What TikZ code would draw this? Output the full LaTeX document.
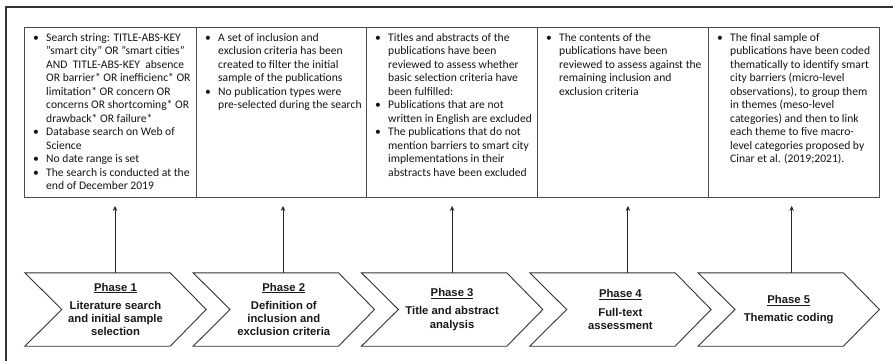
\documentclass[tikz,border=0pt]{standalone}
\usepackage{fontspec}
\setmainfont{Carlito}
\newfontfamily\phasefont{Liberation Sans}
\usetikzlibrary{arrows.meta}
\newcommand{\bi}{\textbullet &}
\begin{document}
\begin{tikzpicture}[x=1pt,y=-1pt,
  frame/.style={line width=1.3pt, draw=black!80},
  colbox/.style={draw=black!70, line width=0.9pt, minimum height=170pt, inner sep=0pt, anchor=north west},
  coltext/.style={inner sep=0pt, anchor=north west, font=\fontsize{11.6}{13.5}\selectfont, text=black!92},
  phase/.style={minimum width=181pt, minimum height=73pt, inner sep=0pt, align=center, font=\phasefont\bfseries\fontsize{11.3}{13.3}\selectfont, text=black!90},
  chev/.style={draw=black!80, line width=0.9pt},
  arr/.style={draw=black!85, line width=1pt, -{Stealth[length=5pt,width=4.5pt]}, shorten >=8pt}]
\useasboundingbox (0,0) rectangle (893,360);
\draw[frame] (6,372) -- (6,7) -- (905,7);

% table columns
\node[colbox, minimum width=172pt] (c1) at (24,27) {};
\node[colbox, minimum width=170pt] (c2) at (196,27) {};
\node[colbox, minimum width=171pt] (c3) at (366,27) {};
\node[colbox, minimum width=171pt] (c4) at (537,27) {};
\node[colbox, minimum width=171pt] (c5) at (708,27) {};

\node[coltext] (t1) at ([xshift=9pt,yshift=-4.5pt]c1.north west) {\begin{tabular}{@{}p{13pt}@{}l@{}}
\bi Search string: TITLE-ABS-KEY\\
& "smart city" OR "smart cities"\\
& AND\ \ TITLE-ABS-KEY\ \ absence\\
& OR barrier* OR inefficienc* OR\\
& limitation* OR concern OR\\
& concerns OR shortcoming* OR\\
& drawback* OR failure*\\
\bi Database search on Web of\\
& Science\\
\bi No date range is set\\
\bi The search is conducted at the\\
& end of December 2019
\end{tabular}};

\node[coltext] (t2) at ([xshift=9pt,yshift=-4.5pt]c2.north west) {\begin{tabular}{@{}p{13pt}@{}l@{}}
\bi A set of inclusion and\\
& exclusion criteria has been\\
& created to filter the initial\\
& sample of the publications\\
\bi No publication types were\\
& pre-selected during the search
\end{tabular}};

\node[coltext] (t3) at ([xshift=9pt,yshift=-4.5pt]c3.north west) {\begin{tabular}{@{}p{13pt}@{}l@{}}
\bi Titles and abstracts of the\\
& publications have been\\
& reviewed to assess whether\\
& basic selection criteria have\\
& been fulfilled:\\
\bi Publications that are not\\
& written in English are excluded\\
\bi The publications that do not\\
& mention barriers to smart city\\
& implementations in their\\
& abstracts have been excluded
\end{tabular}};

\node[coltext] (t4) at ([xshift=9pt,yshift=-4.5pt]c4.north west) {\begin{tabular}{@{}p{13pt}@{}l@{}}
\bi The contents of the\\
& publications have been\\
& reviewed to assess against the\\
& remaining inclusion and\\
& exclusion criteria
\end{tabular}};

\node[coltext] (t5) at ([xshift=9pt,yshift=-4.5pt]c5.north west) {\begin{tabular}{@{}p{13pt}@{}l@{}}
\bi The final sample of\\
& publications have been coded\\
& thematically to identify smart\\
& city barriers (micro-level\\
& observations), to group them\\
& in themes (meso-level\\
& categories) and then to link\\
& each theme to five macro-\\
& level categories proposed by\\
& Cinar et al. (2019;2021).
\end{tabular}};

% phases
\node[phase] (p1) at (115.5,309.5) {\underline{Phase 1}\\[5pt]Literature search\\and initial sample\\selection};
\node[phase] (p2) at (283.8,309.5) {\underline{Phase 2}\\[5pt]Definition of\\inclusion and\\exclusion criteria};
\node[phase] (p3) at (452.1,309.5) {\underline{Phase 3}\\[5pt]Title and abstract\\analysis};
\node[phase] (p4) at (620.4,309.5) {\underline{Phase 4}\\[5pt]Full-text\\assessment};
\node[phase] (p5) at (788.7,309.5) {\underline{Phase 5}\\[5pt]Thematic coding};

\foreach \p in {p1,p2,p3,p4,p5}{
  \draw[chev] (\p.north west) -- ([xshift=-36pt]\p.north east) -- (\p.east) -- ([xshift=-36pt]\p.south east) -- (\p.south west) -- ([xshift=37pt]\p.west) -- cycle;
}

% arrows
\coordinate (a1) at ([xshift=-0.5pt]p1.north);
\coordinate (a2) at ([xshift=-0.8pt]p2.north);
\coordinate (a3) at ([xshift=0pt]p3.north);
\coordinate (a4) at ([xshift=7.5pt]p4.north);
\coordinate (a5) at ([xshift=3pt]p5.north);
\draw[arr] (a1) -- (a1 |- c1.south);
\draw[arr] (a2) -- (a2 |- c2.south);
\draw[arr] (a3) -- (a3 |- c3.south);
\draw[arr] (a4) -- (a4 |- c4.south);
\draw[arr] (a5) -- (a5 |- c5.south);
\end{tikzpicture}
\end{document}
